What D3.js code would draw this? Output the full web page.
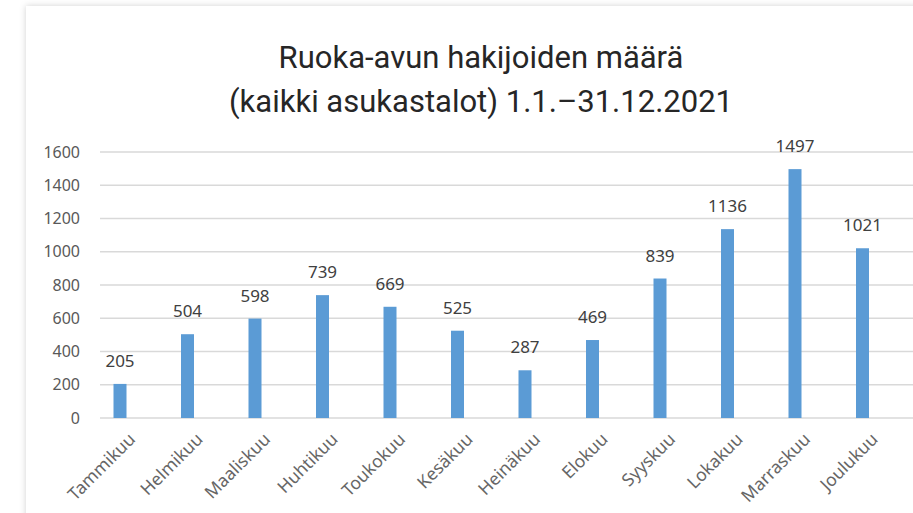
<!DOCTYPE html>
<html>
<head>
<meta charset="utf-8">
<script src="https://cdn.jsdelivr.net/npm/d3@7"></script>
<style>
  html, body { margin: 0; padding: 0; background: #fff; }
  svg { display: block; }
</style>
</head>
<body>
<svg id="chart" width="913" height="513"></svg>
<script>
const months = ["Tammikuu", "Helmikuu", "Maaliskuu", "Huhtikuu", "Toukokuu", "Kesäkuu",
  "Heinäkuu", "Elokuu", "Syyskuu", "Lokakuu", "Marraskuu", "Joulukuu"];
const applicants = [205, 504, 598, 739, 669, 525, 287, 469, 839, 1136, 1497, 1021];
const yTicks = [0, 200, 400, 600, 800, 1000, 1200, 1400, 1600];
const titleLines = ["Ruoka-avun hakijoiden määrä", "(kaikki asukastalot) 1.1.–31.12.2021"];

const width = 913;
const height = 513;
const svg = d3.select("#chart");

// varjo kortin ympärillä
const defs = svg.append("defs");
const f = defs.append("filter").attr("id", "shadow")
  .attr("x", "-5%").attr("y", "-5%").attr("width", "110%").attr("height", "110%");
f.append("feDropShadow").attr("dx", 0).attr("dy", 0)
  .attr("stdDeviation", 3).attr("flood-color", "#000").attr("flood-opacity", 0.18);

svg.append("rect")
  .attr("x", 26).attr("y", 6)
  .attr("width", width + 20).attr("height", height + 20)
  .attr("fill", "#fff")
  .attr("filter", "url(#shadow)");

// otsikko
svg.append("g").selectAll("text")
  .data(titleLines)
  .join("text")
  .attr("x", 481)
  .attr("y", (d, i) => 68 + i * 44)
  .attr("text-anchor", "middle")
  .attr("font-family", "Roboto, sans-serif")
  .attr("font-size", "31px")
  .attr("fill", "#262626")
  .text(d => d);

const plotLeft = 100;
const y = d3.scaleLinear().domain([0, 1600]).range([418, 152]);
const x = d3.scaleBand().domain(months).range([86.25, 896.25]);
const barW = 13;

// ruudukko
svg.append("g").selectAll("line")
  .data(yTicks)
  .join("line")
  .attr("x1", plotLeft).attr("x2", width)
  .attr("y1", d => y(d)).attr("y2", d => y(d))
  .attr("stroke", "#d9d9d9")
  .attr("stroke-width", 1.3);

// y-akseli
const yAxis = svg.append("g")
  .attr("transform", "translate(80,0)")
  .call(d3.axisLeft(y).tickValues(yTicks).tickFormat(d3.format("d")).tickSize(0).tickPadding(0));
yAxis.select(".domain").remove();
yAxis.selectAll("text")
  .attr("font-family", "'Noto Sans', sans-serif")
  .attr("font-size", "16px")
  .attr("fill", "#595959");

// pylväät
svg.append("g").selectAll("rect")
  .data(applicants)
  .join("rect")
  .attr("x", (d, i) => x(months[i]) + x.bandwidth() / 2 - barW / 2)
  .attr("y", d => y(d))
  .attr("width", barW)
  .attr("height", d => y(0) - y(d))
  .attr("fill", "#5b9bd5");

// arvot
svg.append("g").selectAll("text")
  .data(applicants)
  .join("text")
  .attr("x", (d, i) => x(months[i]) + x.bandwidth() / 2)
  .attr("y", d => y(d) - 17)
  .attr("text-anchor", "middle")
  .attr("font-family", "'Noto Sans', sans-serif")
  .attr("font-size", "17px")
  .attr("fill", "#404040")
  .text(d => d);

// x-akselin nimet
svg.append("g").selectAll("text")
  .data(months)
  .join("text")
  .attr("transform", d => `translate(${x(d) + x.bandwidth() / 2 + 12},${436}) rotate(-45)`)
  .attr("text-anchor", "end")
  .attr("dy", "0.35em")
  .attr("font-family", "'Noto Sans', sans-serif")
  .attr("font-size", "17.5px")
  .attr("fill", "#666")
  .text(d => d);
</script>
</body>
</html>
